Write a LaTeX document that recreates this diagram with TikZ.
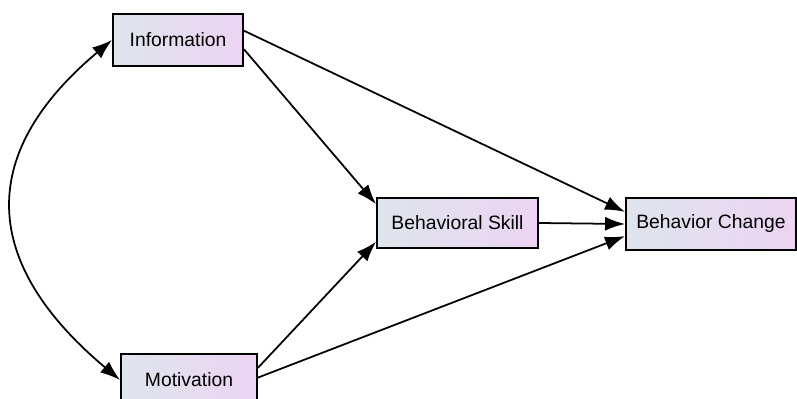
\documentclass[tikz,border=0pt]{standalone}
\usepackage{fontspec}
\setmainfont{Liberation Sans}
\usepackage{xcolor}
\usepackage{tikz}
\usetikzlibrary{arrows.meta, positioning}
\definecolor{boxleft}{RGB}{222,229,236}
\definecolor{boxright}{RGB}{236,212,243}

\begin{document}
\begin{tikzpicture}[
    varbox/.style={draw, rectangle, line width=1.1pt, left color=boxleft, right color=boxright,
                   minimum height=1.04cm, inner sep=2pt, font=\fontsize{11}{13}\selectfont},
    path line/.style={-{Latex[length=4mm, width=2.8mm]}, line width=1pt}
]
    \useasboundingbox (0,0) rectangle (15.94,-7.98);

    % --- VARIABLES ---
    \node[varbox, minimum width=2.6cm] (info) at (3.56,-0.80) {Information};
    \node[varbox, minimum width=2.72cm] (motiv) at (3.78,-7.60) {Motivation};
    \node[varbox, minimum width=3.22cm, minimum height=1.0cm] (skill) at (9.15,-4.46) {Behavioral Skill};
    \node[varbox, minimum width=3.4cm] (change) at (14.22,-4.48) {Behavior Change};

    % --- PATHS ---
    \draw[path line] (info.8) -- (change.172);
    \draw[path line] (info.-8) -- (skill.167);
    \draw[path line] (motiv.10) -- (skill.193);
    \draw[path line] (motiv.2) -- (change.188);
    \draw[path line] (skill.east) -- (change.west);

    % --- COVARIANCE ---
    \draw[{Latex[length=4mm, width=2.8mm]}-{Latex[length=4mm, width=2.8mm]}, line width=1pt]
        (info.west) to[out=220, in=140, looseness=1.35] (motiv.west);

\end{tikzpicture}
\end{document}
